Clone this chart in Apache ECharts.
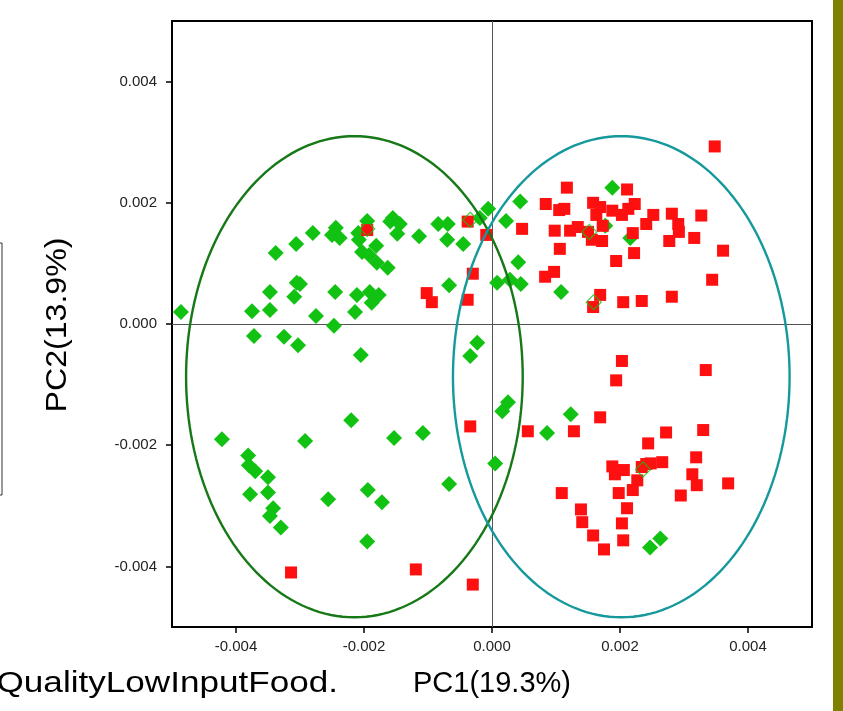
<!DOCTYPE html>
<html>
<head>
<meta charset="utf-8">
<script src="https://cdn.jsdelivr.net/npm/echarts@6/dist/echarts.min.js"></script>
<style>html,body{margin:0;padding:0;background:#fff;}#c{width:843px;height:711px;}</style>
</head>
<body>
<div id="c"></div>
<script>
// ---- data (PC1, PC2) ----
const xTickValues = [-0.004, -0.002, 0, 0.002, 0.004];
const yTickValues = [-0.004, -0.002, 0, 0.002, 0.004];
const xAxisTitle = 'PC1(19.3%)';
const yAxisTitle = 'PC2(13.9%)';
const sideText = 'QualityLowInputFood.';

const greenPoints = [
  [-0.00486,0.00020],[-0.00338,0.00117],[-0.00306,0.00132],[-0.00280,0.00150],[-0.00244,0.00159],
  [-0.00250,0.00147],[-0.00238,0.00142],[-0.00195,0.00170],[-0.00209,0.00150],[-0.00208,0.00139],
  [-0.00181,0.00129],[-0.00203,0.00119],[-0.00192,0.00114],[-0.00180,0.00101],[-0.00163,0.00093],
  [-0.00155,0.00175],[-0.00159,0.00169],[-0.00144,0.00165],[-0.00148,0.00149],[-0.00114,0.00145],
  [-0.00084,0.00165],[-0.00069,0.00165],[-0.00070,0.00139],[-0.00045,0.00132],[-0.00019,0.00175],
  [-0.00006,0.00190],[0.00022,0.00170],[0.00044,0.00202],[0.00041,0.00102],[-0.00067,0.00064],
  [0.00008,0.00068],[0.00028,0.00073],[0.00045,0.00066],[0.00108,0.00053],[0.00188,0.00225],
  [0.00177,0.00162],[0.00216,0.00142],[-0.00305,0.00068],[-0.00300,0.00066],[-0.00309,0.00045],
  [-0.00347,0.00053],[-0.00375,0.00021],[-0.00347,0.00023],[-0.00275,0.00013],[-0.00245,0.00053],
  [-0.00247,-0.00003],[-0.00214,0.00020],[-0.00211,0.00048],[-0.00191,0.00053],[-0.00177,0.00048],
  [-0.00188,0.00035],[-0.00372,-0.00020],[-0.00325,-0.00021],[-0.00303,-0.00035],[-0.00205,-0.00051],
  [-0.00422,-0.00190],[-0.00292,-0.00193],[-0.00220,-0.00159],[-0.00381,-0.00217],[-0.00380,-0.00233],
  [-0.00370,-0.00243],[-0.00350,-0.00253],[-0.00378,-0.00281],[-0.00350,-0.00278],[-0.00342,-0.00304],
  [-0.00347,-0.00317],[-0.00330,-0.00336],[-0.00256,-0.00289],[-0.00194,-0.00274],[-0.00172,-0.00294],
  [-0.00195,-0.00359],[-0.00023,-0.00031],[-0.00034,-0.00053],[0.00025,-0.00129],[0.00016,-0.00144],
  [-0.00153,-0.00188],[-0.00108,-0.00180],[0.00086,-0.00180],[0.00123,-0.00149],[0.00005,-0.00230],
  [-0.00067,-0.00264],[0.00263,-0.00354],[0.00247,-0.00369]
];

const redPoints = [
  [-0.00195,0.00155],[-0.00038,0.00169],[-0.00009,0.00147],[0.00047,0.00157],[0.00084,0.00198],
  [0.00117,0.00225],[0.00105,0.00188],[0.00113,0.00190],[0.00098,0.00154],[0.00122,0.00154],
  [0.00134,0.00160],[0.00150,0.00152],[0.00158,0.00200],[0.00169,0.00193],[0.00163,0.00180],
  [0.00156,0.00139],[0.00172,0.00137],[0.00188,0.00187],[0.00203,0.00180],[0.00213,0.00190],
  [0.00223,0.00198],[0.00211,0.00222],[0.00252,0.00180],[0.00241,0.00165],[0.00281,0.00182],
  [0.00291,0.00165],[0.00292,0.00152],[0.00277,0.00137],[0.00316,0.00142],[0.00327,0.00179],
  [0.00348,0.00293],[0.00173,0.00162],[0.00220,0.00150],[0.00222,0.00117],[0.00194,0.00104],
  [0.00361,0.00121],[0.00344,0.00073],[0.00281,0.00045],[0.00234,0.00038],[0.00205,0.00036],
  [0.00169,0.00048],[0.00158,0.00028],[0.00106,0.00124],[-0.00030,0.00083],[-0.00102,0.00051],
  [-0.00094,0.00036],[-0.00038,0.00040],[0.00083,0.00078],[0.00097,0.00086],[-0.00314,-0.00410],
  [-0.00034,-0.00169],[0.00056,-0.00177],[0.00128,-0.00177],[0.00169,-0.00154],[0.00203,-0.00061],
  [0.00194,-0.00093],[0.00334,-0.00076],[0.00272,-0.00179],[0.00330,-0.00175],[0.00244,-0.00197],
  [0.00319,-0.00220],[0.00188,-0.00235],[0.00206,-0.00241],[0.00192,-0.00248],[0.00241,-0.00231],
  [0.00248,-0.00230],[0.00266,-0.00228],[0.00227,-0.00258],[0.00313,-0.00248],[0.00320,-0.00266],
  [0.00369,-0.00263],[0.00295,-0.00283],[0.00198,-0.00279],[0.00220,-0.00274],[0.00211,-0.00304],
  [0.00203,-0.00329],[0.00205,-0.00357],[0.00175,-0.00372],[0.00109,-0.00279],[0.00139,-0.00306],
  [0.00141,-0.00327],[0.00158,-0.00349],[-0.00119,-0.00405],[-0.00030,-0.00430],[0.00234,-0.00236]
];

const hollowGreenPoints = [
  [-0.00195,0.00157],[-0.00034,0.00172],[0.00152,0.00152],[0.00159,0.00036],[0.00236,-0.00240]
];

// confidence ellipses: [centerX, centerY, radiusX, radiusY]
const ellipseGreen = [-0.00215, -0.00087, 0.00263, 0.00397];
const ellipseTeal = [0.00202, -0.00087, 0.00263, 0.00397];

const GREEN = '#12c212';
const RED = '#ff1010';

function ellipseRender(color) {
  return function (params, api) {
    const cx = api.value(0), cy = api.value(1), rx = api.value(2), ry = api.value(3);
    const pts = [];
    const n = 180;
    for (let k = 0; k <= n; k++) {
      const t = (k / n) * Math.PI * 2;
      pts.push(api.coord([cx + rx * Math.cos(t), cy + ry * Math.sin(t)]));
    }
    return { type: 'polyline', shape: { points: pts }, style: { stroke: color, fill: null, lineWidth: 2.4 } };
  };
}

const chart = echarts.init(document.getElementById('c'), null, { renderer: 'canvas' });
const labelStyle = { fontSize: 15, color: '#222', fontFamily: 'Liberation Sans, Arial, sans-serif' };

chart.setOption({
  animation: false,
  backgroundColor: '#fff',
  grid: { left: 172, right: 31, top: 21, bottom: 84, show: true, borderColor: '#000', borderWidth: 2, backgroundColor: 'transparent' },
  xAxis: {
    type: 'value', min: -0.005, max: 0.005,
    axisLine: { show: true, onZero: false, lineStyle: { color: '#000', width: 2 } },
    axisTick: { show: true, customValues: xTickValues, length: 6, lineStyle: { color: '#000', width: 1.5 } },
    axisLabel: Object.assign({ customValues: xTickValues, margin: 12, formatter: v => Number(v).toFixed(3) }, labelStyle),
    splitLine: { show: false }
  },
  yAxis: {
    type: 'value', min: -0.005, max: 0.005,
    axisLine: { show: true, onZero: false, lineStyle: { color: '#000', width: 2 } },
    axisTick: { show: true, customValues: yTickValues, length: 6, lineStyle: { color: '#000', width: 1.5 } },
    axisLabel: Object.assign({ customValues: yTickValues, margin: 15, formatter: v => Number(v).toFixed(3) }, labelStyle),
    splitLine: { show: false }
  },
  series: [
    {
      type: 'scatter', data: greenPoints, symbol: 'diamond', symbolSize: 16,
      itemStyle: { color: GREEN, opacity: 1 }, z: 3,
      markLine: {
        silent: true, symbol: 'none', label: { show: false },
        lineStyle: { color: '#555', width: 1, type: 'solid' },
        data: [{ xAxis: 0 }, { yAxis: 0 }], z: 1
      }
    },
    {
      type: 'scatter', data: redPoints, symbol: 'rect', symbolSize: 12,
      itemStyle: { color: RED, opacity: 1 }, z: 4
    },
    {
      type: 'scatter', data: hollowGreenPoints, symbol: 'diamond', symbolSize: 15,
      itemStyle: { color: 'rgba(0,0,0,0)', borderColor: GREEN, borderWidth: 1.2 }, z: 5
    },
    {
      type: 'custom', renderItem: ellipseRender('#167816'), data: [ellipseGreen], z: 6, silent: true
    },
    {
      type: 'custom', renderItem: ellipseRender('#16999c'), data: [ellipseTeal], z: 6, silent: true
    }
  ],
  graphic: [
    { type: 'rect', shape: { x: 833, y: 0, width: 10, height: 711 }, style: { fill: '#808000' } },
    { type: 'rect', shape: { x: -20, y: 243, width: 22, height: 252 }, style: { fill: null, stroke: '#333', lineWidth: 1 } },
    { type: 'text', x: 492, y: 684, style: { text: xAxisTitle, fontSize: 29, fontFamily: 'Liberation Sans, Arial, sans-serif', fill: '#000', textAlign: 'center', textVerticalAlign: 'middle' } },
    { type: 'text', x: 58, y: 325, rotation: Math.PI / 2, scaleX: 1.07, style: { text: yAxisTitle, fontSize: 30, fontFamily: 'Liberation Sans, Arial, sans-serif', fill: '#000', textAlign: 'center', textVerticalAlign: 'middle' } },
    { type: 'text', x: 338, y: 684, scaleX: 1.17, style: { text: sideText, fontSize: 30, fontFamily: 'Liberation Sans, Arial, sans-serif', fill: '#000', textAlign: 'right', textVerticalAlign: 'middle' } }
  ]
});
</script>
</body>
</html>
